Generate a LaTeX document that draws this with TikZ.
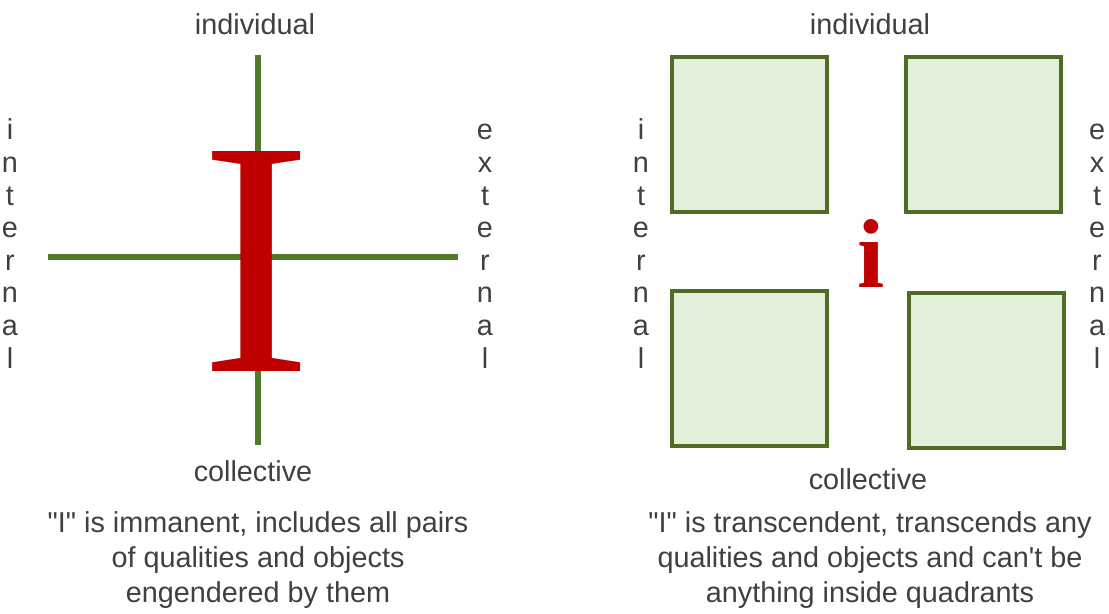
\documentclass[tikz,border=0pt]{standalone}
\usepackage{fontspec}
\setmainfont{Liberation Sans}
\newfontfamily\romanfont{Liberation Serif}
\usetikzlibrary{positioning}
\definecolor{axisg}{HTML}{4E7A2A}
\definecolor{quadd}{HTML}{4F6B26}
\definecolor{quadf}{HTML}{E2EFD9}
\definecolor{ired}{HTML}{C00000}
\definecolor{ink}{HTML}{404040}

\begin{document}
\begin{tikzpicture}[x=0.5pt, y=-0.5pt,
      axisline/.style={draw=axisg, line width=3pt},
      quad/.style={draw=quadd, fill=quadf, line width=2pt, minimum size=77.5pt, inner sep=0pt},
      lbl/.style={text=ink, font=\fontsize{14.4}{17}\selectfont, inner sep=0pt, anchor=base},
      note/.style={text=ink, font=\fontsize{14.4}{17.5}\selectfont, inner sep=0pt, align=center, anchor=north},
      bigself/.style={text=ired, inner sep=0pt, anchor=base}]
    \fill[white] (0,0) rectangle (1109,614);
    \useasboundingbox (0,0) rectangle (1109,614);

    % immanent I: axes with the letter on top
    \coordinate (ax-n) at (258,55);
    \coordinate (ax-s) at (258,445);
    \coordinate (ax-w) at (48,257);
    \coordinate (ax-e) at (458,257);
    \draw[axisline] (ax-n) -- (ax-s);
    \draw[axisline] (ax-w) -- (ax-e);
    \node[bigself, font=\romanfont\fontsize{168}{168}\selectfont] (selfI) at (256,372) {I};

    \node[lbl] (indL) at (255,35) {individual};
    \node[lbl] (colL) at (253,482) {collective};
    \foreach \ch [count=\k] in {i,n,t,e,r,n,a,l}
      \node[lbl] (intL-\k) at (10,140+32.6*\k-32.6) {\ch};
    \foreach \ch [count=\k] in {e,x,t,e,r,n,a,l}
      \node[lbl] (extL-\k) at (485,140+32.6*\k-32.6) {\ch};
    \node[note] (capL) at (258,511) {\textquotedbl I\textquotedbl{} is immanent, includes all pairs\\ of qualities and objects\\ engendered by them};

    % transcendent i: four quadrants round a small letter
    \node[quad] (q-nw) at (749.5,135) {};
    \node[quad] (q-ne) at (983.5,135) {};
    \node[quad] (q-sw) at (749.5,369) {};
    \node[quad] (q-se) at (986,371) {};
    \node[bigself, font=\romanfont\bfseries\fontsize{49}{49}\selectfont] (selfi) at (871,288) {i};

    \node[lbl] (indR) at (870,35) {individual};
    \node[lbl] (colR) at (868,490) {collective};
    \foreach \ch [count=\k] in {i,n,t,e,r,n,a,l}
      \node[lbl] (intR-\k) at (641,140+32.6*\k-32.6) {\ch};
    \foreach \ch [count=\k] in {e,x,t,e,r,n,a,l}
      \node[lbl] (extR-\k) at (1097,140+32.6*\k-32.6) {\ch};
    \node[note] (capR) at (870,511) {\textquotedbl I\textquotedbl{} is transcendent, transcends any\\ qualities and objects and can\textquotesingle t be\\ anything inside quadrants};
  \end{tikzpicture}
\end{document}
